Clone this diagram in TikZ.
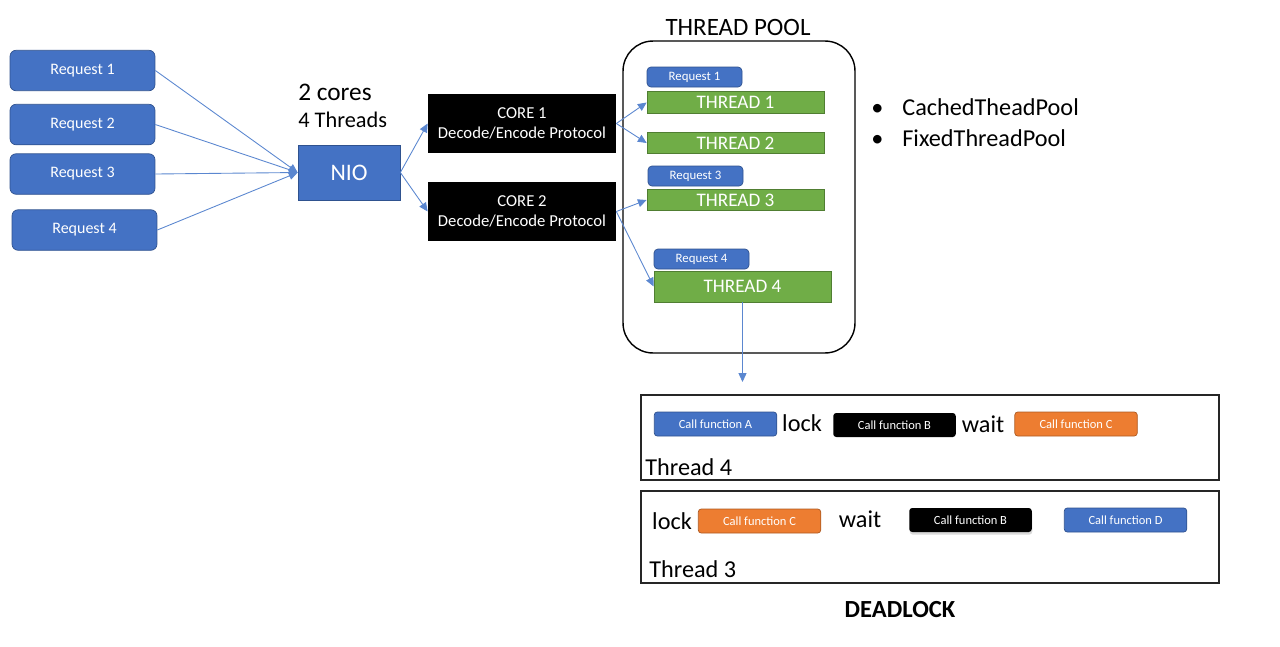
\documentclass[tikz,border=0pt]{standalone}
\usepackage{fontspec}
\setmainfont{Carlito}
\usetikzlibrary{arrows.meta,shadows}
\definecolor{reqblue}{RGB}{68,114,196}
\definecolor{reqedge}{RGB}{47,82,143}
\definecolor{thrgreen}{RGB}{112,173,71}
\definecolor{thredge}{RGB}{80,126,50}
\definecolor{callorange}{RGB}{237,125,49}
\definecolor{calledge}{RGB}{174,90,33}
\definecolor{flowblue}{RGB}{91,135,208}

\tikzset{
  reqbox/.style   ={draw=reqedge, fill=reqblue, rounded corners=0.12cm, text=white, inner sep=0pt,
                    minimum width=2.9cm, minimum height=0.81cm, font=\fontsize{9.1}{11}\selectfont},
  smallreq/.style ={draw=reqedge, fill=reqblue, rounded corners=0.08cm, text=white, inner sep=0pt,
                    minimum width=1.9cm, minimum height=0.4cm, font=\fontsize{7.3}{8}\selectfont},
  corebox/.style  ={fill=black, text=white, inner sep=0pt, align=center,
                    minimum width=3.76cm, minimum height=1.18cm, font=\fontsize{9.5}{11.3}\selectfont},
  thrbox/.style   ={draw=thredge, fill=thrgreen, text=white, inner sep=0pt,
                    minimum width=3.54cm, minimum height=0.43cm, font=\fontsize{10.9}{12}\selectfont},
  callbox/.style  ={rounded corners=0.06cm, text=white, inner sep=0pt,
                    minimum width=2.45cm, minimum height=0.48cm, font=\fontsize{7.1}{8}\selectfont},
  bluecall/.style ={callbox, draw=reqedge, fill=reqblue},
  blackcall/.style={callbox, fill=black},
  orangecall/.style={callbox, draw=calledge, fill=callorange},
  plain/.style    ={inner sep=0pt, font=\fontsize{13.8}{16}\selectfont},
  threadframe/.style={draw=black!85, line width=0.8pt, inner sep=0pt, minimum width=11.56cm},
  flow/.style     ={draw=flowblue, line width=0.5pt, -{Triangle[width=4.5pt,length=5pt]}}
}

\begin{document}
\begin{tikzpicture}[x=0.02cm, y=-0.02cm]
  \useasboundingbox (0,0) rectangle (1280,646);

  % incoming requests
  \node[reqbox] (req1) at ( 82.5, 70.5) {Request 1};
  \node[reqbox] (req2) at ( 82.5,124.5) {Request 2};
  \node[reqbox] (req3) at ( 82.5,174.0) {Request 3};
  \node[reqbox] (req4) at ( 84.5,230.0) {Request 4};

  % NIO and the two cores
  \node[draw=reqedge, fill=reqblue, text=white, inner sep=0pt, minimum width=2.04cm, minimum height=1.1cm,
        font=\fontsize{13.5}{15}\selectfont] (nio) at (349,172.5) {NIO};
  \node[plain, anchor=west, font=\fontsize{14.4}{16}\selectfont] (cores)   at (298, 92) {2 cores};
  \node[plain, anchor=west, font=\fontsize{12.7}{14}\selectfont] (threads) at (298,120) {4 Threads};
  \node[corebox] (core1) at (522,123.5) {CORE 1\\Decode/Encode Protocol};
  \node[corebox] (core2) at (522,211.5) {CORE 2\\Decode/Encode Protocol};

  % thread pool
  \node[draw=black, line width=0.8pt, rounded corners=0.6cm, inner sep=0pt,
        minimum width=4.64cm, minimum height=6.24cm] (pool) at (739,197) {};
  \node[plain, font=\fontsize{14.2}{16}\selectfont] (pooltitle) at (738,27) {THREAD POOL};
  \node[smallreq] (preq1) at (694.5, 77) {Request 1};
  \node[thrbox]   (thr1)  at (735.5,102.5) {THREAD 1};
  \node[thrbox]   (thr2)  at (735.5,143) {THREAD 2};
  \node[smallreq] (preq3) at (695.5,176) {Request 3};
  \node[thrbox]   (thr3)  at (735.5,200) {THREAD 3};
  \node[smallreq] (preq4) at (701.5,259) {Request 4};
  \node[thrbox, minimum height=0.62cm] (thr4) at (742.5,286.5) {THREAD 4};

  \node[plain, anchor=west] (cached) at (871,107) {\makebox[0.62cm][l]{\textbullet}CachedTheadPool};
  \node[plain, anchor=west] (fixed)  at (871,138) {\makebox[0.62cm][l]{\textbullet}FixedThreadPool};

  % deadlock detail
  \node[threadframe, minimum height=1.7cm]  (t4box) at (930,437.5) {};
  \node[bluecall]   (fa)    at ( 715.5,424) {Call function A};
  \node[plain]      (lock1) at ( 802,423) {lock};
  \node[blackcall]  (fb)    at ( 894.5,425) {Call function B};
  \node[plain]      (wait1) at ( 983,424) {wait};
  \node[orangecall] (fc)    at (1076,424) {Call function C};
  \node[plain, anchor=west] (t4label) at (645,467) {Thread 4};

  \node[threadframe, minimum height=1.84cm] (t3box) at (930,537) {};
  \node[plain]      (lock2) at ( 672,521) {lock};
  \node[orangecall] (fc2)   at ( 759.5,521) {Call function C};
  \node[plain]      (wait2) at ( 860,519) {wait};
  \node[blackcall, drop shadow={opacity=0.3, shadow xshift=0.3pt, shadow yshift=-1.5pt}] (fb2) at (970.5,520) {Call function B};
  \node[bluecall]   (fd)    at (1125.5,520) {Call function D};
  \node[plain, anchor=west] (t3label) at (649,569) {Thread 3};

  \node[plain, font=\bfseries\fontsize{14}{16}\selectfont] (deadlock) at (900,610) {DEADLOCK};

  % connectors
  \foreach \r in {req1,req2,req3,req4}
    \draw[flow] (\r.east) -- (nio.west);
  \draw[flow] (nio.east) -- (core1.west);
  \draw[flow] (nio.east) -- (core2.west);
  \draw[flow] (core1.east) -- (thr1.west);
  \draw[flow] (core1.east) -- (thr2.west);
  \draw[flow] (core2.east) -- (thr3.west);
  \draw[flow] (core2.east) -- (thr4.west);
  \draw[flow, shorten >=7pt] (thr4.south) -- (thr4.south |- t4box.north);
\end{tikzpicture}
\end{document}
